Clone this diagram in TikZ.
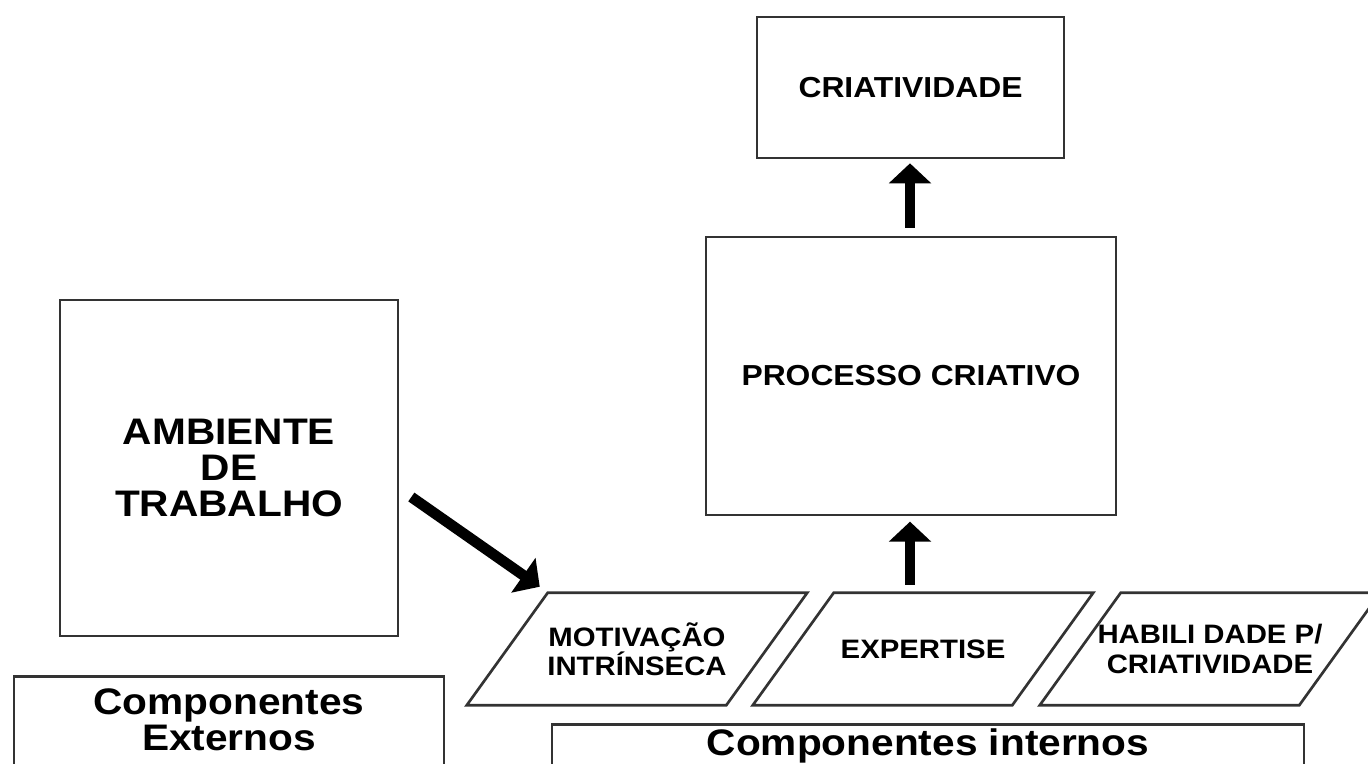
\documentclass[tikz,border=0pt]{standalone}
\usepackage{fontspec}
\setmainfont{Liberation Sans}[FakeStretch=1.1]
\usetikzlibrary{arrows.meta,calc}

\begin{document}
\begin{tikzpicture}[x=0.75pt,y=0.75pt,yscale=-1,xscale=1,
  box/.style={draw=black!80,line width=2pt,inner sep=0pt,align=center},
  para/.style={minimum width=194.25pt,minimum height=84pt,inner sep=0pt,align=center,
    font=\bfseries\fontsize{20}{22}\selectfont},
  paraline/.style={draw=black!80,line width=2pt,line join=miter},
  bigarrow/.style={line width=8pt,-{Triangle[width=31pt,length=15pt]}}]
%set diagram 1368 x 764
\clip (0,0) rectangle (1368,764);

%Shape: Rectangle [criatividade]
\node[box,minimum width=230.25pt,minimum height=105.75pt,font=\bfseries\fontsize{21.7}{24}\selectfont] (criat) at (910.5,87.5) {CRIATIVIDADE};
%Shape: Rectangle [processo]
\node[box,minimum width=307.5pt,minimum height=208.5pt,font=\bfseries\fontsize{21.7}{24}\selectfont] (proc) at (911,376) {PROCESSO CRIATIVO};
%Shape: Rectangle [ambiente]
\node[box,minimum width=253.5pt,minimum height=252pt,font=\bfseries\fontsize{27.7}{27}\selectfont] (amb) at (229,468) {AMBIENTE\\DE\\TRABALHO};

%Shape: Parallelograms
\node[para] (mot) at (637,649) {MOTIVA\c{C}\~AO\\INTR\'INSECA};
\node[para] (exp) at (923,649) {EXPERTISE};
\node[para] (hab) at (1210,649) {HABILI DADE P/\\CRIATIVIDADE};
\foreach \n in {mot,exp,hab}
  \draw[paraline] ($(\n.south west)+(-40.5,0)$) -- ($(\n.north west)+(40.5,0)$)
    -- ($(\n.north east)+(40.5,0)$) -- ($(\n.south east)+(-40.5,0)$) -- cycle;

%Shape: Rectangle [labels at bottom]
\node[box,anchor=north,minimum width=322.5pt,inner ysep=9pt,font=\bfseries\fontsize{27.7}{27}\selectfont] (ext) at (229,675) {Componentes\\Externos\rule[-30pt]{0pt}{30pt}};
\node[box,anchor=north,minimum width=564pt,inner ysep=3.5pt,font=\bfseries\fontsize{27.7}{27}\selectfont] (int) at (928,723) {Componentes internos\rule[-30pt]{0pt}{30pt}};

%Arrows
\draw[bigarrow,shorten <=6pt,shorten >=3pt] (proc.north -| 910,0) -- (criat.south -| 910,0);
\draw[bigarrow,shorten <=6pt,shorten >=4pt] (exp.north -| 910,0) -- (proc.south -| 910,0);
\draw[bigarrow] ($(amb.east)+(12,29)$) -- ($(mot.north west)+(32.5,-6)$);

\end{tikzpicture}
\end{document}
